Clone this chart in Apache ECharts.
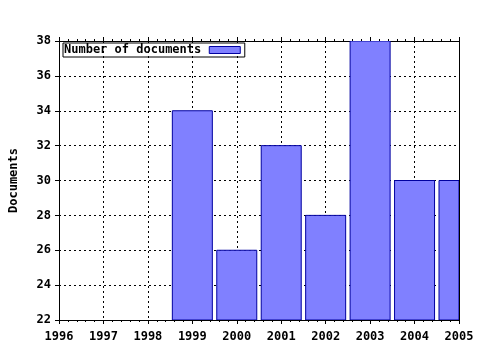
<!DOCTYPE html>
<html><head><meta charset="utf-8">
<script src="https://cdn.jsdelivr.net/npm/echarts@6/dist/echarts.min.js"></script>
<style>html,body{margin:0;padding:0;background:#fff}#c{width:480px;height:350px}</style>
</head><body><div id="c"></div>
<script>
const years = [1999, 2000, 2001, 2002, 2003, 2004, 2005];
const documents = [34, 26, 32, 28, 38, 30, 30];
const seriesName = 'Number of documents';
const yAxisName = 'Documents';

const font = 'DejaVu Sans Mono';
const fs = 12;
const chart = echarts.init(document.getElementById('c'), null, {renderer: 'canvas'});
const axisCommon = {
  axisLine: {show: true, lineStyle: {color: '#000', width: 1}},
  axisTick: {show: true, length: 4, lineStyle: {color: '#000'}},
  minorTick: {show: true, splitNumber: 5, length: 2, lineStyle: {color: '#000'}},
  axisLabel: {color: '#000', fontFamily: font, fontWeight: 'bold', fontSize: fs},
};
const barStyle = {color: '#8080ff', borderColor: '#0000a0', borderWidth: 1};
chart.setOption({
  animation: false,
  grid: {left: 58, right: 21, top: 41, bottom: 30, containLabel: false},
  legend: {
    show: true, left: 63, top: 43, orient: 'horizontal', align: 'right',
    borderColor: '#000', borderWidth: 1, padding: [1, 4, 1, 1],
    itemWidth: 31, itemHeight: 7, itemGap: 0, icon: 'rect',
    itemStyle: barStyle,
    textStyle: {fontFamily: font, fontWeight: 'bold', fontSize: fs, color: '#000', padding: [0, 3, 0, 0]},
    data: [seriesName]
  },
  xAxis: [
    Object.assign({}, axisCommon, {
      type: 'value', min: 1996, max: 2005, interval: 1,
      splitLine: {show: true, lineStyle: {color: '#000', type: [2, 3], width: 1}},
      axisLabel: Object.assign({}, axisCommon.axisLabel, {margin: 11, formatter: v => String(v)})
    }),
    Object.assign({}, axisCommon, {
      type: 'value', position: 'top', min: 1996, max: 2005, interval: 1,
      axisLabel: {show: false}, splitLine: {show: false}
    })
  ],
  yAxis: [
    Object.assign({}, axisCommon, {
      type: 'value', min: 22, max: 38, interval: 2,
      minorTick: {show: false},
      name: yAxisName, nameLocation: 'middle', nameGap: 39, nameRotate: 90,
      nameTextStyle: {fontFamily: font, fontWeight: 'bold', fontSize: fs, color: '#000'},
      splitLine: {show: true, lineStyle: {color: '#000', type: [2, 3], width: 1}},
      axisLabel: Object.assign({}, axisCommon.axisLabel, {margin: 8})
    }),
    {
      type: 'value', position: 'right', min: 22, max: 38, interval: 2,
      axisLine: {show: true, lineStyle: {color: '#000'}},
      axisTick: {show: false}, axisLabel: {show: false}, splitLine: {show: false}
    }
  ],
  series: [{
    name: seriesName, type: 'custom', xAxisIndex: 0, yAxisIndex: 0, clip: true,
    itemStyle: barStyle,
    encode: {x: 0, y: 1},
    data: years.map((y, i) => [y, documents[i]]),
    renderItem: function (params, api) {
      const x = api.value(0), v = api.value(1);
      const halfYear = 0.45;
      const p0 = api.coord([x - halfYear, v]);
      const p1 = api.coord([x + halfYear, 22]);
      const rect = echarts.graphic.clipRectByRect(
        {x: p0[0], y: p0[1], width: p1[0] - p0[0], height: p1[1] - p0[1]},
        {x: params.coordSys.x, y: params.coordSys.y, width: params.coordSys.width, height: params.coordSys.height}
      );
      if (!rect) return null;
      return {type: 'rect', shape: rect, style: api.style(barStyle)};
    }
  }]
});
</script></body></html>
